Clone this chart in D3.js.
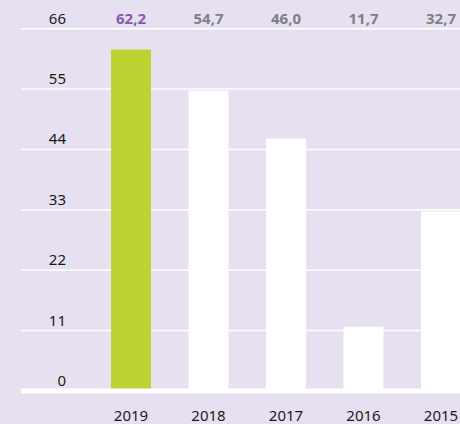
<!DOCTYPE html>
<html>
<head>
<meta charset="utf-8">
<script src="https://cdn.jsdelivr.net/npm/d3@7"></script>
<style>
  html, body { margin: 0; padding: 0; background: #e7e0f0; }
  svg { display: block; font-family: "Noto Sans", sans-serif; }
</style>
</head>
<body>
<div id="chart"></div>
<script>
// bar chart, years newest first, first bar highlighted
const years  = ["2019", "2018", "2017", "2016", "2015"];
const values = [62.2, 54.7, 46.0, 11.7, 32.7];
const yTicks = [0, 11, 22, 33, 44, 55, 66];

const W = 460, H = 424;

const svg = d3.select("#chart").append("svg")
  .attr("width", W).attr("height", H);

svg.append("rect").attr("width", W).attr("height", H).attr("fill", "#e7e0f0");

const x = d3.scaleBand()
  .domain(years)
  .range([92.25, 479.75])
  .paddingInner(0.484)
  .paddingOuter(0.242);

const y = d3.scaleLinear().domain([0, 66]).range([391, 28.7]);

const fmt = v => d3.format(".1f")(v).replace(".", ",");

// gridlines
svg.append("g")
  .selectAll("line")
  .data(yTicks.filter(d => d > 0))
  .join("line")
    .attr("x1", 21).attr("x2", W)
    .attr("y1", d => y(d)).attr("y2", d => y(d))
    .attr("stroke", "#fff").attr("stroke-width", 1.5);

// bars
svg.append("g")
  .selectAll("rect")
  .data(values)
  .join("rect")
    .attr("x", (d, i) => x(years[i]))
    .attr("width", x.bandwidth())
    .attr("y", d => y(d))
    .attr("height", d => y(0) - y(d))
    .attr("fill", (d, i) => i === 0 ? "#bed231" : "#ffffff");

// baseline
svg.append("rect")
  .attr("x", 21).attr("width", W - 21)
  .attr("y", y(0) - 2.5).attr("height", 5)
  .attr("fill", "#fff");

// y tick labels
svg.append("g")
  .selectAll("text")
  .data(yTicks)
  .join("text")
    .attr("x", 66)
    .attr("y", d => y(d) - 5)
    .attr("text-anchor", "end")
    .attr("fill", "#1a1a1a")
    .style("font-size", "15px")
    .text(d => d);

// value labels on top row
svg.append("g")
  .selectAll("text")
  .data(values)
  .join("text")
    .attr("x", (d, i) => x(years[i]) + x.bandwidth() / 2)
    .attr("y", y(66) - 5)
    .attr("text-anchor", "middle")
    .attr("fill", (d, i) => i === 0 ? "#8a58a6" : "#7e8084")
    .style("font-size", "15px")
    .style("font-weight", "bold")
    .text(d => fmt(d));

// year labels
svg.append("g")
  .selectAll("text")
  .data(years)
  .join("text")
    .attr("x", d => x(d) + x.bandwidth() / 2)
    .attr("y", 421)
    .attr("text-anchor", "middle")
    .attr("fill", "#1a1a1a")
    .style("font-size", "15px")
    .text(d => d);
</script>
</body>
</html>
